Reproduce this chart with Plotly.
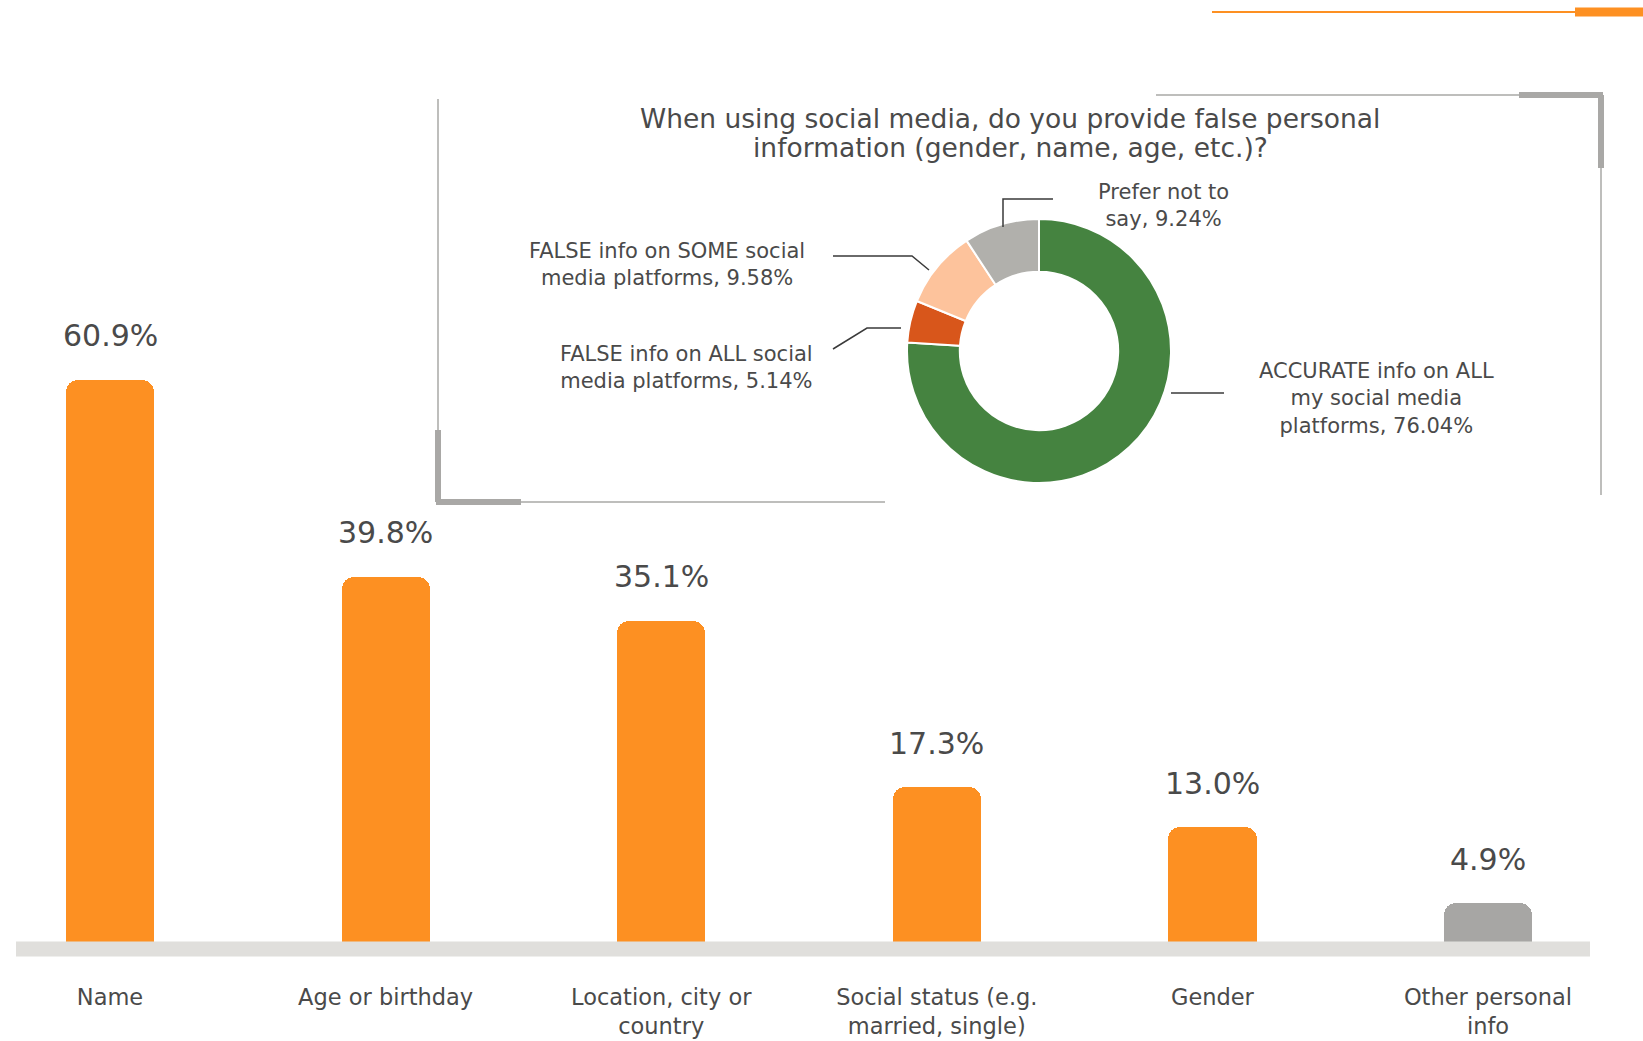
import plotly.graph_objects as go

# ---- data -------------------------------------------------------------
categories = [
    "Name",
    "Age or birthday",
    "Location, city or<br>country",
    "Social status (e.g.<br>married, single)",
    "Gender",
    "Other personal<br>info",
]
shares = [60.9, 39.8, 35.1, 17.3, 13.0, 4.9]

donut_labels = [
    "ACCURATE info on ALL<br>my social media<br>platforms",
    "FALSE info on ALL social<br>media platforms",
    "FALSE info on SOME social<br>media platforms",
    "Prefer not to<br>say",
]
donut_values = [76.04, 5.14, 9.58, 9.24]

donut_title_lines = [
    "When using social media, do you provide false personal",
    "information (gender, name, age, etc.)?",
]

# ---- canvas helpers (pixel -> paper) -----------------------------------
W, H = 1643, 1041
BASE_Y = 949          # pixel row of the zero line
PX_PER_PCT = 9.35


def px(x):
    return x / W


def py(y):
    return (H - y) / H


ORANGE = "#FD9022"
GREY_BAR = "#A7A6A4"
BASE_GREY = "#E0DFDC"
FRAME_GREY = "#A9A8A6"
TEXT = "#4A4A4A"

bar_colors = [GREY_BAR if c.startswith("Other") else ORANGE for c in categories]
idx = list(range(len(categories)))

fig = go.Figure()

fig.add_trace(go.Bar(
    x=idx, y=shares,
    marker=dict(color=bar_colors, cornerradius=12, line=dict(width=0)),
    width=0.32,
    hoverinfo="skip",
    showlegend=False,
))

# value labels above the bars
annotations = []
for i, v in zip(idx, shares):
    annotations.append(dict(
        x=i, y=v, xref="x", yref="y", text=f"{v:.1f}%",
        showarrow=False, yanchor="middle", yshift=44,
        font=dict(family="DejaVu Sans", size=30, color=TEXT),
    ))

# ---- donut --------------------------------------------------------------
cx, cy, r = 1039, 351, 132
fig.add_trace(go.Pie(
    labels=[l.replace("<br>", " ") for l in donut_labels],
    values=donut_values,
    hole=0.6,
    sort=False,
    direction="clockwise",
    rotation=0,
    textinfo="none",
    hoverinfo="label+percent",
    marker=dict(colors=["#458340", "#D8561B", "#FDC39C", "#B1B0AC"],
                line=dict(color="white", width=2)),
    domain=dict(x=[px(cx - r), px(cx + r)], y=[py(cy + r), py(cy - r)]),
    showlegend=False,
))

# donut labels (pixel centres) and leader lines
label_pos = [(1376, 398), (686, 367), (667, 264), (1163, 205)]
for (lx, ly), lab, v in zip(label_pos, donut_labels, donut_values):
    annotations.append(dict(
        x=px(lx), y=py(ly), xref="paper", yref="paper",
        text=f"{lab}, {v:.2f}%", showarrow=False,
        xanchor="center", yanchor="middle",
        font=dict(family="DejaVu Sans", size=21, color=TEXT),
    ))

leaders = [
    [(1171, 393), (1224, 393)],
    [(833, 349), (867, 328), (901, 328)],
    [(833, 256), (912, 256), (929, 270)],
    [(1003, 227), (1003, 199), (1053, 199)],
]

shapes = []
for pts in leaders:
    path = "M " + " L ".join(f"{px(x):.5f},{py(y):.5f}" for x, y in pts)
    shapes.append(dict(type="path", path=path, xref="paper", yref="paper",
                       line=dict(color="#3A3A3A", width=1.5)))

# two-line heading of the donut panel
for line, ly in zip(donut_title_lines, [119, 148]):
    annotations.append(dict(
        x=px(1010), y=py(ly), xref="paper", yref="paper", text=line,
        showarrow=False, xanchor="center", yanchor="middle",
        font=dict(family="DejaVu Sans", size=26.5, color=TEXT),
    ))


def seg(x0, y0, x1, y1, color, width, layer="above"):
    shapes.append(dict(type="line", xref="paper", yref="paper",
                       x0=px(x0), y0=py(y0), x1=px(x1), y1=py(y1),
                       line=dict(color=color, width=width), layer=layer))


# inset frame corners
seg(438, 99, 438, 502, FRAME_GREY, 1.5)
seg(438, 430, 438, 502, FRAME_GREY, 6)
seg(436, 502, 885, 502, FRAME_GREY, 1.5)
seg(436, 502, 521, 502, FRAME_GREY, 6)
seg(1156, 95, 1603, 95, FRAME_GREY, 1.5)
seg(1519, 95, 1603, 95, FRAME_GREY, 6)
seg(1601, 95, 1601, 495, FRAME_GREY, 1.5)
seg(1601, 95, 1601, 168, FRAME_GREY, 6)

# header accent line
seg(1212, 12, 1643, 12, "#FD9022", 2)
seg(1575, 12, 1643, 12, "#FD9022", 9)

# base track under the bars
seg(16, BASE_Y, 1590, BASE_Y, BASE_GREY, 15)

x_per_cat = 275.6
x0_center = 110
fig.update_layout(
    width=W, height=H,
    margin=dict(l=0, r=0, t=0, b=0, autoexpand=False),
    paper_bgcolor="white", plot_bgcolor="white",
    xaxis=dict(
        domain=[0, 1],
        range=[-x0_center / x_per_cat, (W - x0_center) / x_per_cat],
        tickvals=idx, ticktext=categories, ticks="",
        showgrid=False, zeroline=False, showline=False,
        ticklabelstandoff=32,
        tickfont=dict(family="DejaVu Sans", size=22.5, color=TEXT),
        automargin=False,
        fixedrange=True,
    ),
    yaxis=dict(
        domain=[py(BASE_Y), 1],
        range=[0, BASE_Y / PX_PER_PCT],
        visible=False, automargin=False, fixedrange=True,
    ),
    bargap=0,
    annotations=annotations,
    shapes=shapes,
)

fig.write_html("out.html")
